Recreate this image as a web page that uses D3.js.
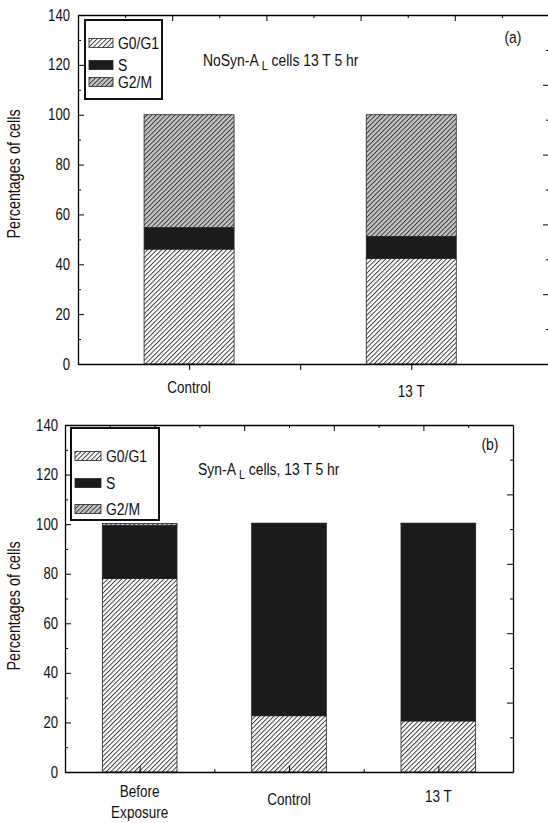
<!DOCTYPE html>
<html>
<head>
<meta charset="utf-8">
<script src="https://cdn.jsdelivr.net/npm/d3@7"></script>
<style>
  body { margin: 0; background: #fff; }
  text { font-family: "Liberation Sans", Arial, sans-serif; fill: #111; }
</style>
</head>
<body>
<div id="chart"></div>
<script>
// cell cycle phases (stack order, bottom to top)
var phases = ["G0/G1", "S", "G2/M"];

// panel (a) NoSyn-A_L cells
var catsA = ["Control", "13 T"];
var g0g1A = [46.1, 42.4];
var sA = [8.6, 8.8];
var g2mA = [45.3, 48.8];

// panel (b) Syn-A_L cells
var catsB = ["Before Exposure", "Control", "13 T"];
var g0g1B = [78.1, 22.7, 20.6];
var sB = [21.4, 77.4, 79.6];
var g2mB = [0.8, 0.3, 0.2];

var yTicks = [0, 20, 40, 60, 80, 100, 120, 140];
var yMinor = [10, 30, 50, 70, 90, 110, 130];

var NARROW = 0.82; // the figure uses a condensed Helvetica

var svg = d3.select("#chart")
  .append("svg")
  .attr("width", 548)
  .attr("height", 823);

// squeeze text horizontally around its anchor point
function condense(sel) {
  sel.each(function() {
    var t = d3.select(this);
    var x = +t.attr("x") || 0, y = +t.attr("y") || 0;
    var prev = t.attr("transform") || "";
    t.attr("transform", `${prev} translate(${x},${y}) scale(${NARROW},1) translate(${-x},${-y})`);
  });
}

// hatch patterns
var defs = svg.append("defs");
function hatch(id, bg) {
  var p = defs.append("pattern")
    .attr("id", id)
    .attr("patternUnits", "userSpaceOnUse")
    .attr("width", 3.3)
    .attr("height", 3.3)
    .attr("patternTransform", "rotate(45)");
  p.append("rect").attr("width", 3.3).attr("height", 3.3).attr("fill", bg);
  p.append("line")
    .attr("x1", 0.5).attr("y1", 0).attr("x2", 0.5).attr("y2", 3.3)
    .attr("stroke", "#222").attr("stroke-width", 0.85);
}
hatch("hatchWhite", "#fff");
hatch("hatchGray", "#c6c6c6");

var fills = {"G0/G1": "url(#hatchWhite)", "S": "#1b1b1b", "G2/M": "url(#hatchGray)"};

function drawPanel(opt) {
  var x = d3.scaleLinear().domain(opt.xDomain).range([opt.left, opt.right]);
  var y = d3.scaleLinear().domain([0, 140]).range([opt.bottom, opt.top]);
  var g = svg.append("g");

  // build rows for stacking
  var rows = opt.cats.map(function(c, i) {
    return {cat: c, pos: opt.pos[i], "G0/G1": opt.g0g1[i], "S": opt.s[i], "G2/M": opt.g2m[i]};
  });
  var series = d3.stack().keys(phases)(rows);

  var bw = x(opt.barWidth) - x(0);
  series.forEach(function(s) {
    g.append("g").selectAll("rect")
      .data(s)
      .enter()
      .append("rect")
      .attr("x", d => x(d.data.pos) - bw / 2)
      .attr("y", d => y(d[1]))
      .attr("width", bw)
      .attr("height", d => y(d[0]) - y(d[1]))
      .attr("fill", fills[s.key])
      .attr("stroke", "#222")
      .attr("stroke-width", 0.8);
  });

  // left axis: ticks point inward
  g.append("g")
    .attr("transform", `translate(${opt.left},0)`)
    .call(d3.axisLeft(y).tickValues(yTicks).tickSizeInner(-6).tickSizeOuter(0).tickPadding(opt.labelPad))
    .attr("font-family", null)
    .call(a => a.select(".domain").attr("stroke-width", 1.3))
    .call(a => a.selectAll("text").style("font-size", "16px").attr("fill", "#111").call(condense));
  g.append("g")
    .attr("transform", `translate(${opt.left},0)`)
    .call(d3.axisLeft(y).tickValues(yMinor).tickSize(-3).tickFormat(""))
    .call(a => a.select(".domain").remove());

  // right axis: 10 divisions, no labels
  var yr = d3.scaleLinear().domain([0, 10]).range([opt.bottom, opt.top]);
  g.append("g")
    .attr("transform", `translate(${opt.right},0)`)
    .call(d3.axisRight(yr).tickValues(d3.range(0, 11)).tickSize(-3).tickFormat("").tickSizeOuter(0))
    .call(a => a.select(".domain").attr("stroke-width", 1.3))
    .call(a => a.selectAll(".tick line").attr("x2", (d) => d % 2 === 0 ? -6 : -3));

  // top axis: 10 divisions, no labels
  var xt = d3.scaleLinear().domain([0, 10]).range([opt.left, opt.right]);
  g.append("g")
    .attr("transform", `translate(0,${opt.top})`)
    .call(d3.axisTop(xt).tickValues(d3.range(1, 10)).tickSize(-3).tickFormat("").tickSizeOuter(0))
    .call(a => a.select(".domain").attr("stroke-width", 1.3))
    .call(a => a.selectAll(".tick line").attr("y2", (d) => d % 2 === 0 ? 6 : 3));

  // bottom axis
  g.append("g")
    .attr("transform", `translate(0,${opt.bottom})`)
    .call(d3.axisBottom(x).tickValues(opt.xTicks).tickSize(opt.xTickSize).tickFormat("").tickSizeOuter(0))
    .call(a => a.select(".domain").attr("stroke-width", 1.3))
    .call(a => a.selectAll(".tick line").attr("y2", (d) => opt.xTickLen(d)));

  // category labels
  rows.forEach(function(r, i) {
    var lines = opt.labelLines[i];
    var t = g.append("text")
      .attr("x", x(r.pos))
      .attr("y", opt.labelY[i])
      .attr("text-anchor", "middle")
      .style("font-size", "16.5px");
    lines.forEach(function(l, j) {
      t.append("tspan").attr("x", x(r.pos)).attr("dy", j === 0 ? 0 : 21).text(l);
    });
    condense(t);
  });

  // y label
  g.append("text")
    .attr("transform", `translate(20,${opt.yLabelY}) rotate(-90)`)
    .attr("text-anchor", "middle")
    .style("font-size", "17.5px")
    .text("Percentages of cells")
    .call(condense);

  // title with subscript
  var title = g.append("text")
    .attr("x", opt.titleX)
    .attr("y", opt.titleY)
    .style("font-size", "17px");
  title.append("tspan").text(opt.titleA);
  title.append("tspan").attr("dy", 4).style("font-size", "13px").text(" L");
  title.append("tspan").attr("dy", -4).text(opt.titleB);
  condense(title);

  g.append("text")
    .attr("x", opt.tagX)
    .attr("y", opt.tagY)
    .attr("text-anchor", "middle")
    .style("font-size", "17px")
    .text(opt.tag)
    .call(condense);

  // legend
  var lg = g.append("g");
  lg.append("rect")
    .attr("x", opt.legend.x).attr("y", opt.legend.y)
    .attr("width", opt.legend.w).attr("height", opt.legend.h)
    .attr("fill", "#fff").attr("stroke", "#111").attr("stroke-width", 2);
  phases.forEach(function(p, i) {
    var sy = opt.legend.rowY[i];
    lg.append("rect")
      .attr("x", opt.legend.x + 4).attr("y", sy - 4.5)
      .attr("width", opt.legend.sw).attr("height", 9)
      .attr("fill", fills[p]).attr("stroke", "#222").attr("stroke-width", 0.8);
    lg.append("text")
      .attr("x", opt.legend.x + opt.legend.sw + 9)
      .attr("y", sy + 6)
      .style("font-size", "17px")
      .text(p)
      .call(condense);
  });
}

drawPanel({
  cats: catsA, pos: [1, 3], g0g1: g0g1A, s: sA, g2m: g2mA,
  xDomain: [0, 4.24], left: 78, right: 549, top: 15, bottom: 364,
  barWidth: 0.81, labelPad: 8,
  xTicks: [1, 2, 3], xTickSize: 6, xTickLen: d => 6,
  labelLines: [["Control"], ["13 T"]], labelY: [393, 397],
  yLabelY: 174,
  titleA: "NoSyn-A", titleB: " cells 13 T 5 hr", titleX: 203, titleY: 66,
  tag: "(a)", tagX: 513, tagY: 43,
  legend: {x: 85, y: 20, w: 77, h: 79, sw: 24, rowY: [43, 65, 82]}
});

drawPanel({
  cats: catsB, pos: [1, 3, 5], g0g1: g0g1B, s: sB, g2m: g2mB,
  xDomain: [0, 6], left: 65, right: 513, top: 425, bottom: 772,
  barWidth: 1, labelPad: 7,
  xTicks: [1, 2, 3, 4, 5], xTickSize: -6, xTickLen: d => d % 2 === 1 ? -6 : -3,
  labelLines: [["Before", "Exposure"], ["Control"], ["13 T"]], labelY: [797, 805, 802],
  yLabelY: 606,
  titleA: "Syn-A", titleB: " cells, 13 T 5 hr", titleX: 198, titleY: 475,
  tag: "(b)", tagX: 490, tagY: 450,
  legend: {x: 71, y: 428, w: 88, h: 92, sw: 26, rowY: [456, 483, 509]}
});
</script>
</body>
</html>
